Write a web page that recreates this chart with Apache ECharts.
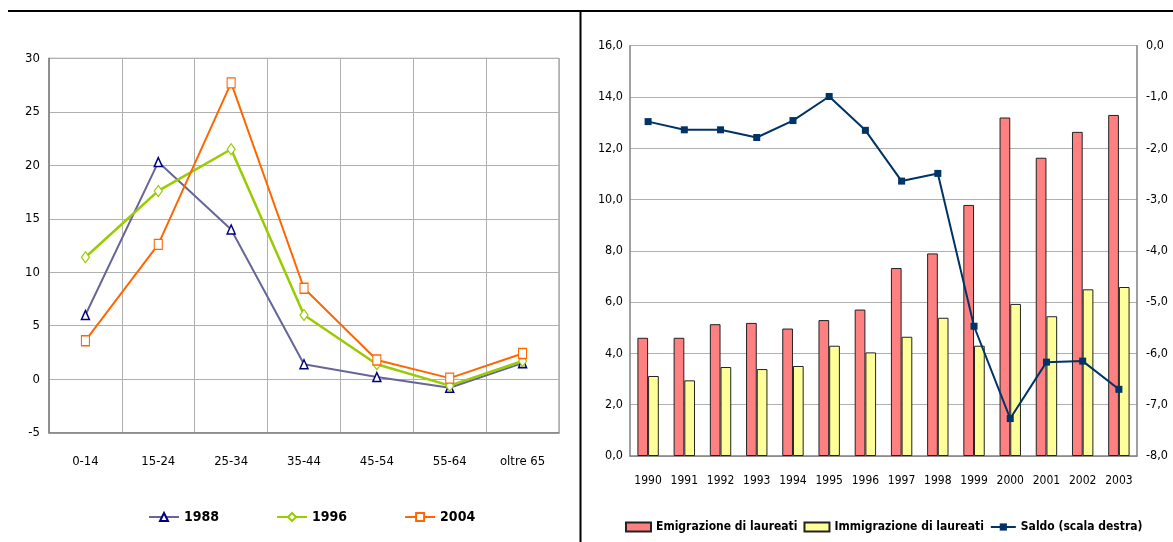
<!DOCTYPE html>
<html>
<head>
<meta charset="utf-8">
<script src="https://cdn.jsdelivr.net/npm/echarts@6/dist/echarts.min.js"></script>
<style>
html,body{margin:0;padding:0;background:#fff;}
#c{width:1173px;height:542px;}
</style>
</head>
<body>
<div id="c"></div>
<script>
// Left chart data
var ageCategories = ['0-14','15-24','25-34','35-44','45-54','55-64','oltre 65'];
var s1988 = [6.0, 20.3, 14.0, 1.4, 0.2, -0.8, 1.5];
var s1996 = [11.4, 17.6, 21.5, 6.0, 1.4, -0.6, 1.7];
var s2004 = [3.6, 12.6, 27.7, 8.5, 1.8, 0.1, 2.4];
var leftTicks = {min: -5, max: 30, interval: 5};

// Right chart data
var years = ['1990','1991','1992','1993','1994','1995','1996','1997','1998','1999','2000','2001','2002','2003'];
var emigrazione = [4.61, 4.61, 5.14, 5.19, 4.97, 5.30, 5.71, 7.33, 7.90, 9.79, 13.20, 11.63, 12.64, 13.30];
var immigrazione = [3.12, 2.95, 3.47, 3.39, 3.51, 4.30, 4.04, 4.65, 5.39, 4.30, 5.93, 5.45, 6.50, 6.59];
var saldo = [-1.48, -1.64, -1.64, -1.79, -1.46, -0.99, -1.65, -2.64, -2.49, -5.47, -7.27, -6.17, -6.15, -6.70];
var rightLeftTicks = {min: 0, max: 16, interval: 2};
var rightRightTicks = {min: -8, max: 0, interval: 1};

var FONT = '"DejaVu Sans Condensed", "Liberation Sans", Arial, sans-serif';
function commaFmt(v){ return v.toFixed(1).replace('.', ','); }

var chart = echarts.init(document.getElementById('c'), null, {renderer: 'canvas'});
var option = {
  animation: false,
  backgroundColor: '#fff',
  textStyle: {fontFamily: FONT},
  graphic: [
    {type: 'line', shape: {x1: 8, y1: 11, x2: 1173, y2: 11}, style: {stroke: '#000', lineWidth: 2}},
    {type: 'line', shape: {x1: 580.5, y1: 11, x2: 580.5, y2: 542}, style: {stroke: '#000', lineWidth: 2}}
  ],
  grid: [
    {left: 49, right: 1173 - 559, top: 58.3, bottom: 542 - 432.7, show: true, borderColor: '#808080', borderWidth: 1, containLabel: false},
    {left: 630, right: 1173 - 1137, top: 45.7, bottom: 542 - 456, show: true, borderColor: '#808080', borderWidth: 0, containLabel: false}
  ],
  legend: [
    {
      data: ['1988','1996','2004'],
      left: 143, top: 505,
      itemWidth: 30, itemHeight: 10, itemGap: 57,
      textStyle: {fontFamily: FONT, fontSize: 14, fontWeight: 'bold', color: '#000'}
    },
    {
      data: [
        {name: 'Emigrazione di laureati', icon: 'rect'},
        {name: 'Immigrazione di laureati', icon: 'rect'},
        {name: 'Saldo (scala destra)'}
      ],
      left: 620, top: 516,
      itemWidth: 25, itemHeight: 9, itemGap: 6,
      textStyle: {fontFamily: FONT, fontSize: 12, fontWeight: 'bold', color: '#000'}
    }
  ],
  xAxis: [
    {
      type: 'category', gridIndex: 0, data: ageCategories, boundaryGap: true,
      axisLine: {onZero: false, lineStyle: {color: '#808080', width: 1.5}},
      axisTick: {show: false},
      axisLabel: {color: '#000', fontSize: 13, margin: 22, interval: 0, fontFamily: FONT},
      splitLine: {show: true, lineStyle: {color: '#b0b0b0', width: 1}}
    },
    {
      type: 'category', gridIndex: 1, data: years, boundaryGap: true,
      axisLine: {onZero: false, lineStyle: {color: '#808080', width: 1.5}},
      axisTick: {show: false},
      axisLabel: {color: '#000', fontSize: 12, margin: 19, interval: 0, fontFamily: FONT},
      splitLine: {show: false}
    }
  ],
  yAxis: [
    {
      type: 'value', gridIndex: 0, min: leftTicks.min, max: leftTicks.max, interval: leftTicks.interval,
      axisLine: {show: true, lineStyle: {color: '#808080', width: 1.5}},
      axisTick: {show: false},
      axisLabel: {color: '#000', fontSize: 13, margin: 9, fontFamily: FONT},
      splitLine: {show: true, lineStyle: {color: '#b0b0b0', width: 1}}
    },
    {
      type: 'value', gridIndex: 1, min: rightLeftTicks.min, max: rightLeftTicks.max, interval: rightLeftTicks.interval,
      position: 'left',
      axisLine: {show: true, lineStyle: {color: '#808080', width: 1.5}},
      axisTick: {show: false},
      axisLabel: {color: '#000', fontSize: 12.5, margin: 7, fontFamily: FONT, formatter: commaFmt},
      splitLine: {show: true, lineStyle: {color: '#b0b0b0', width: 1}}
    },
    {
      type: 'value', gridIndex: 1, min: rightRightTicks.min, max: rightRightTicks.max, interval: rightRightTicks.interval,
      position: 'right',
      axisLine: {show: true, lineStyle: {color: '#808080', width: 1.5}},
      axisTick: {show: false},
      axisLabel: {color: '#000', fontSize: 12.5, margin: 9, fontFamily: FONT, formatter: commaFmt},
      splitLine: {show: false}
    }
  ],
  series: [
    {
      name: '1988', type: 'line', xAxisIndex: 0, yAxisIndex: 0, data: s1988,
      symbol: 'triangle', symbolSize: [8, 9],
      lineStyle: {color: '#666699', width: 2},
      itemStyle: {color: '#fff', borderColor: '#000080', borderWidth: 1.5}
    },
    {
      name: '1996', type: 'line', xAxisIndex: 0, yAxisIndex: 0, data: s1996,
      symbol: 'diamond', symbolSize: [8, 11],
      lineStyle: {color: '#99CC00', width: 2.5},
      itemStyle: {color: '#fff', borderColor: '#99CC00', borderWidth: 1.2}
    },
    {
      name: '2004', type: 'line', xAxisIndex: 0, yAxisIndex: 0, data: s2004,
      symbol: 'rect', symbolSize: [8, 10],
      lineStyle: {color: '#FF6600', width: 2},
      itemStyle: {color: '#fff', borderColor: '#FF6600', borderWidth: 1.2}
    },
    {
      name: 'Emigrazione di laureati', type: 'bar', xAxisIndex: 1, yAxisIndex: 1, data: emigrazione,
      barWidth: 10.7, barGap: '0%',
      itemStyle: {color: '#FF8080', borderColor: '#222', borderWidth: 1}
    },
    {
      name: 'Immigrazione di laureati', type: 'bar', xAxisIndex: 1, yAxisIndex: 1, data: immigrazione,
      barWidth: 10.7, barGap: '0%',
      itemStyle: {color: '#FFFF99', borderColor: '#222', borderWidth: 1}
    },
    {
      name: 'Saldo (scala destra)', type: 'line', xAxisIndex: 1, yAxisIndex: 2, data: saldo,
      symbol: 'rect', symbolSize: 7, z: 5,
      lineStyle: {color: '#003366', width: 2},
      itemStyle: {color: '#003366'}
    }
  ]
};
chart.setOption(option);
</script>
</body>
</html>
